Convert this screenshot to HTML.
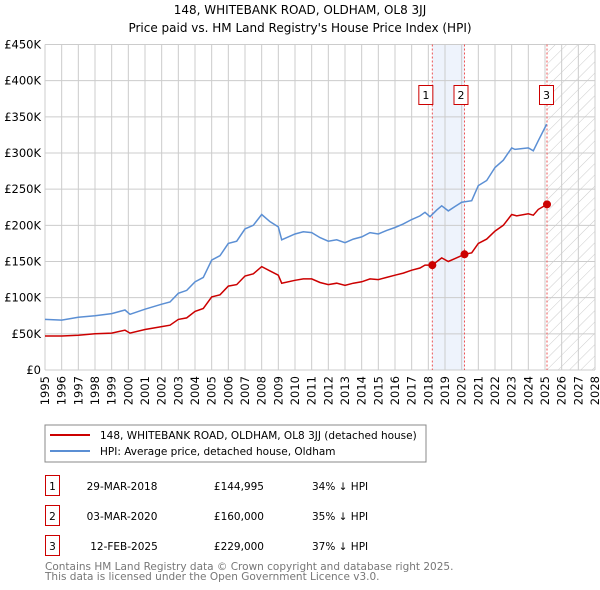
<!DOCTYPE html>
<html><head><meta charset="utf-8"><style>
body{margin:0;background:#fff;}
svg{display:block;font-family:"DejaVu Sans","Liberation Sans",sans-serif;}
</style></head><body>
<svg id="chart" width="600" height="590" viewBox="0 0 600 590">
<defs>
<pattern id="hatch" width="8" height="8" patternUnits="userSpaceOnUse" patternTransform="rotate(45)">
<rect width="8" height="8" fill="#fff"/><line x1="0" y1="0" x2="0" y2="8" stroke="#ccc" stroke-width="1"/>
</pattern>
</defs>
<text x="300" y="14" text-anchor="middle" font-size="12" fill="#000">148, WHITEBANK ROAD, OLDHAM, OL8 3JJ</text>
<text x="300" y="32" text-anchor="middle" font-size="12" fill="#000">Price paid vs. HM Land Registry's House Price Index (HPI)</text>
<g id="plot"></g>
<g>
<rect x="45" y="425" width="381" height="37" fill="#fff" stroke="#888"/>
<line x1="50" y1="435" x2="90" y2="435" stroke="#cc0000" stroke-width="2"/>
<text x="100" y="439" font-size="10.5">148, WHITEBANK ROAD, OLDHAM, OL8 3JJ (detached house)</text>
<line x1="50" y1="451" x2="90" y2="451" stroke="#5b8fd4" stroke-width="2"/>
<text x="100" y="455" font-size="10.5">HPI: Average price, detached house, Oldham</text>
</g>
<g font-size="10.5">
<rect x="45.5" y="475.5" width="14" height="20" fill="none" stroke="#cc0000"/>
<text x="52.5" y="490" text-anchor="middle">1</text>
<text x="122" y="490" text-anchor="middle">29-MAR-2018</text>
<text x="264" y="490" text-anchor="end">£144,995</text>
<text x="312" y="490">34% ↓ HPI</text>
<rect x="45.5" y="505.5" width="14" height="20" fill="none" stroke="#cc0000"/>
<text x="52.5" y="520" text-anchor="middle">2</text>
<text x="122" y="520" text-anchor="middle">03-MAR-2020</text>
<text x="264" y="520" text-anchor="end">£160,000</text>
<text x="312" y="520">35% ↓ HPI</text>
<rect x="45.5" y="535.5" width="14" height="20" fill="none" stroke="#cc0000"/>
<text x="52.5" y="550" text-anchor="middle">3</text>
<text x="124" y="550" text-anchor="middle">12-FEB-2025</text>
<text x="264" y="550" text-anchor="end">£229,000</text>
<text x="312" y="550">37% ↓ HPI</text>
</g>
<text x="45" y="570" font-size="10.5" fill="#777">Contains HM Land Registry data © Crown copyright and database right 2025.</text>
<text x="45" y="580" font-size="10.5" fill="#777">This data is licensed under the Open Government Licence v3.0.</text>
</svg>
<script>
const hpiYears=[1995,1996,1997,1998,1999,1999.8,2000.1,2001,2002,2002.5,2003,2003.5,2004,2004.5,2005,2005.5,2006,2006.5,2007,2007.5,2008,2008.5,2009,2009.2,2010,2010.5,2011,2011.5,2012,2012.5,2013,2013.5,2014,2014.5,2015,2015.5,2016,2016.5,2017,2017.5,2017.8,2018.1,2018.5,2018.8,2019.2,2019.6,2020,2020.6,2021,2021.5,2022,2022.5,2023,2023.2,2024,2024.3,2024.6,2025.1];
const hpiValues=[70,69,73,75,78,83,77,84,91,94,106,110,122,128,152,158,175,178,195,200,215,205,198,180,188,191,190,183,178,180,176,181,184,190,188,193,197,202,208,213,218,212,221,227,220,226,232,234,255,262,280,290,307,305,307,303,317,340];
const priceYears=[1995,1996,1997,1998,1999,1999.8,2000.1,2001,2002,2002.5,2003,2003.5,2004,2004.5,2005,2005.5,2006,2006.5,2007,2007.5,2008,2008.5,2009,2009.2,2010,2010.5,2011,2011.5,2012,2012.5,2013,2013.5,2014,2014.5,2015,2015.5,2016,2016.5,2017,2017.5,2017.8,2018.24,2018.8,2019.2,2019.6,2020.17,2020.6,2021,2021.5,2022,2022.5,2023,2023.3,2024,2024.3,2024.6,2025.12];
const priceValues=[47,47,48,50,51,55,51,56,60,62,70,72,81,85,101,104,116,118,130,133,143,137,131,120,124,126,126,121,118,120,117,120,122,126,125,128,131,134,138,141,145,145,155,150,154,160,162,175,181,192,200,215,213,216,214,222,229];
const saleYears=[2018.24,2020.17,2025.12];
const salePrices=[144.995,160,229];
const saleLabels=["1","2","3"];
const yTicks=[0,50,100,150,200,250,300,350,400,450];
const yTickLabels=["£0","£50K","£100K","£150K","£200K","£250K","£300K","£350K","£400K","£450K"];
const xTicks=[];for(let y=1995;y<=2028;y++)xTicks.push(y);

const L=45,R=595,T=44.5,B=370;
const x=v=>L+(v-1995)/(2028-1995)*(R-L);
const y=v=>B-v/450*(B-T);
const NS="http://www.w3.org/2000/svg";
const g=document.getElementById('plot');
function mk(tag,attrs,parent){const e=document.createElementNS(NS,tag);for(const k in attrs)e.setAttribute(k,attrs[k]);(parent||g).appendChild(e);return e;}

let band=mk('rect',{x:x(saleYears[0]),y:T,width:x(saleYears[1])-x(saleYears[0]),height:B-T,fill:'#eef3fc'});


let hat=mk('rect',{x:x(saleYears[2]),y:T,width:R-x(saleYears[2]),height:B-T,fill:'url(#hatch)'});



xTicks.forEach(t=>{
  let l=mk('line',{x1:x(t),x2:x(t),y1:T,y2:B,stroke:'#ccc','stroke-width':1});
  
  
  let tx=mk('text',{x:0,y:0,'font-size':11.5,'text-anchor':'end',transform:`translate(${x(t)+4},${B+6}) rotate(-90)`});
  tx.textContent=t;
  
  
});
yTicks.forEach((t,i)=>{
  let l=mk('line',{x1:L,x2:R,y1:y(t),y2:y(t),stroke:'#ccc','stroke-width':1});
  
  
  let tx=mk('text',{x:L-4,y:y(t)+4,'font-size':11.5,'text-anchor':'end'});
  tx.textContent=yTickLabels[i];
  
  
});

saleYears.forEach((s,i)=>{
  let l=mk('line',{x1:x(s),x2:x(s),y1:T,y2:B,stroke:'#ee5555','stroke-width':1,'stroke-dasharray':'2,2'});
  
  
});

let hp=mk('path',{d:hpiYears.map((v,i)=>(i?'L':'M')+x(v).toFixed(1)+','+y(hpiValues[i]).toFixed(1)).join(''),fill:'none',stroke:'#5b8fd4','stroke-width':1.5});


let pp=mk('path',{d:priceYears.map((v,i)=>(i?'L':'M')+x(v).toFixed(1)+','+y(priceValues[i]).toFixed(1)).join(''),fill:'none',stroke:'#cc0000','stroke-width':1.5});



saleYears.forEach((s,i)=>{
  let c=mk('circle',{cx:x(s),cy:y(salePrices[i]),r:4,fill:'#cc0000'});
  
  
  let r=mk('rect',{x:x(s)-13.5,y:85.5,width:14,height:19,fill:'#fff',stroke:'#cc0000'});
  if(i===1) r.setAttribute('x',x(s)-10.5);
  if(i===2) r.setAttribute('x',x(s)-7.5);
  
  
  let t=mk('text',{x:+r.getAttribute('x')+7,y:99,'font-size':11,'text-anchor':'middle'});
  t.textContent=saleLabels[i];
  
  
});
</script>
</body></html>
